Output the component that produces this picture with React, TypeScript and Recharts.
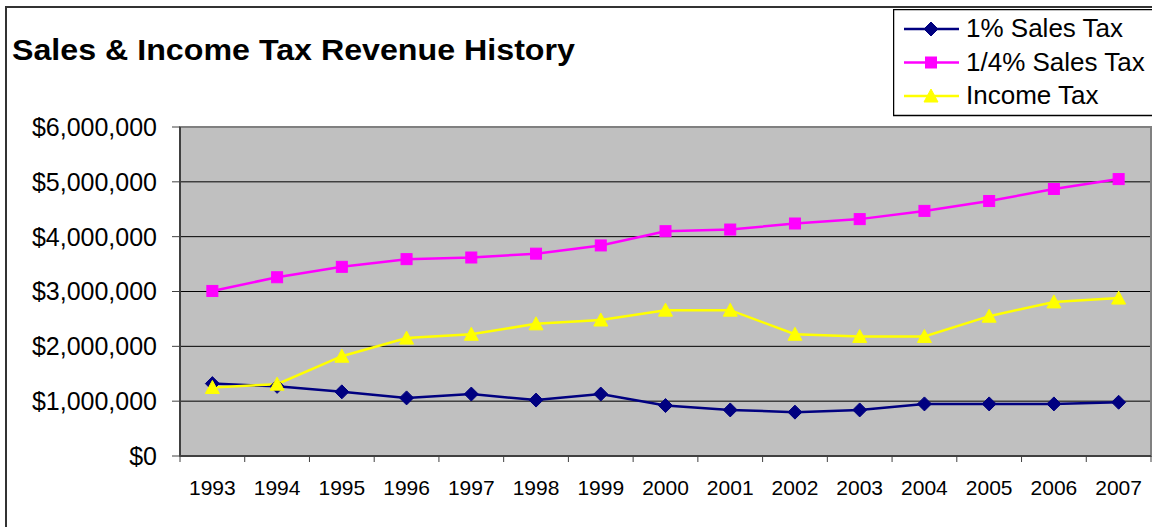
import React from 'react';
import { LineChart, Line, XAxis, YAxis, CartesianGrid, Legend, ReferenceArea } from 'recharts';

const years = ['1993', '1994', '1995', '1996', '1997', '1998', '1999', '2000', '2001', '2002', '2003', '2004', '2005', '2006', '2007'];
const salesTax1 = [1320000, 1270000, 1170000, 1060000, 1130000, 1020000, 1130000, 920000, 840000, 800000, 840000, 950000, 950000, 950000, 980000];
const salesTaxQuarter = [3010000, 3260000, 3450000, 3590000, 3620000, 3690000, 3840000, 4100000, 4130000, 4240000, 4320000, 4470000, 4650000, 4870000, 5050000];
const incomeTax = [1250000, 1310000, 1820000, 2150000, 2220000, 2410000, 2480000, 2660000, 2660000, 2220000, 2180000, 2180000, 2550000, 2810000, 2880000];
const yTicks = [0, 1000000, 2000000, 3000000, 4000000, 5000000, 6000000];

const FONT = '"Liberation Sans", Arial, sans-serif';
const W = 1152;
const H = 527;
const PLOT_LEFT = 180;
const PLOT_RIGHT = 1151;
const HALF_BAND = (PLOT_RIGHT - PLOT_LEFT) / years.length / 2;

const firstYear = Number(years[0]);
const lastYear = Number(years[years.length - 1]);
// tick marks sit between the years, labels in the middle
const xTicks = [...years.map(y => Number(y) - 0.5), lastYear + 0.5];

const data = years.map((y, i) => ({
  year: Number(y),
  s1: salesTax1[i],
  s2: salesTaxQuarter[i],
  inc: incomeTax[i],
}));

const NAVY = '#000080';
const MAGENTA = '#FF00FF';
const YELLOW = '#FFFF00';

const Diamond = ({ cx, cy }: any) => (
  <polygon points={`${cx},${cy - 7} ${cx + 7},${cy} ${cx},${cy + 7} ${cx - 7},${cy}`} fill={NAVY} stroke={NAVY} />
);
const Square = ({ cx, cy }: any) => (
  <rect x={cx - 5.5} y={cy - 5.5} width={11} height={11} fill={MAGENTA} stroke={MAGENTA} />
);
const Triangle = ({ cx, cy }: any) => (
  <polygon points={`${cx},${cy - 7} ${cx + 7},${cy + 6} ${cx - 7},${cy + 6}`} fill={YELLOW} stroke={YELLOW} />
);

const markers: Record<string, any> = { s1: Diamond, s2: Square, inc: Triangle };

const YearTick = ({ x, y, payload }: any) => {
  const v = payload.value;
  if (v > lastYear) return <g />;
  return (
    <text x={x + HALF_BAND} y={y} dy="0.71em" textAnchor="middle" fontSize={21} fontFamily={FONT} fill="#000">
      {v + 0.5}
    </text>
  );
};

const money = (v: number) => '$' + v.toLocaleString('en-US');

const LegendBox = ({ payload }: any) => (
  <svg width={270} height={108} style={{ display: 'block' }}>
    <rect x={0.5} y={0.5} width={300} height={106} fill="#fff" stroke="#000" strokeWidth={1.5} />
    {(payload || []).map((p: any, i: number) => {
      const cy = 20 + i * 33.5;
      const M = markers[p.dataKey];
      return (
        <g key={p.value}>
          <line x1={11} x2={66} y1={cy} y2={cy} stroke={p.color} strokeWidth={2.5} />
          <M cx={38} cy={cy} />
          <text x={73} y={cy + 8} fontSize={26} fontFamily={FONT} fill="#000">{p.value}</text>
        </g>
      );
    })}
  </svg>
);

export default function App() {
  return (
    <div style={{ position: 'absolute', left: 0, top: 0, width: W, height: H, overflow: 'hidden', background: '#fff' }}>
      <div style={{ position: 'absolute', left: 5, top: 6, width: 1300, height: 700, border: '2px solid #333' }} />
      <div
        style={{
          position: 'absolute', left: 12, top: 34, fontFamily: FONT, fontWeight: 'bold', fontSize: 29, color: '#000',
          whiteSpace: 'nowrap', transform: 'scaleX(1.11)', transformOrigin: 'left top',
        }}
      >
        Sales &amp; Income Tax Revenue History
      </div>
      <div style={{ position: 'absolute', left: 0, top: 0 }}>
        <LineChart width={W} height={H} data={data} margin={{ top: 127, right: W - PLOT_RIGHT, bottom: 0, left: 0 }}>
          <CartesianGrid vertical={false} stroke="#000" fill="#C0C0C0" fillOpacity={1} />
          <ReferenceArea x1={firstYear - 0.5} x2={lastYear + 0.5} y1={0} y2={6000000} fill="none" stroke="#808080" strokeWidth={2} ifOverflow="visible" />
          <XAxis
            dataKey="year"
            type="number"
            domain={[firstYear - 0.5, lastYear + 0.5]}
            ticks={xTicks}
            interval={0}
            height={71}
            tickSize={6}
            tickMargin={18}
            tick={<YearTick />}
            axisLine={{ stroke: '#404040', strokeWidth: 2 }}
            tickLine={{ stroke: '#404040' }}
          />
          <YAxis
            width={PLOT_LEFT}
            domain={[0, 6000000]}
            ticks={yTicks}
            interval={0}
            tickSize={8}
            tickMargin={15}
            tickFormatter={money}
            tick={{ fill: '#000', fontSize: 25, fontFamily: FONT }}
            axisLine={{ stroke: '#404040', strokeWidth: 2 }}
            tickLine={{ stroke: '#404040' }}
          />
          <Legend
            layout="vertical"
            align="center"
            verticalAlign="middle"
            wrapperStyle={{ left: 893, top: 9, width: 270, height: 108 }}
            content={<LegendBox />}
          />
          <Line name="1% Sales Tax" dataKey="s1" type="linear" stroke={NAVY} strokeWidth={2.5} dot={<Diamond />} isAnimationActive={false} />
          <Line name="1/4% Sales Tax" dataKey="s2" type="linear" stroke={MAGENTA} strokeWidth={2.5} dot={<Square />} isAnimationActive={false} />
          <Line name="Income Tax" dataKey="inc" type="linear" stroke={YELLOW} strokeWidth={2.5} dot={<Triangle />} isAnimationActive={false} />
        </LineChart>
      </div>
    </div>
  );
}
